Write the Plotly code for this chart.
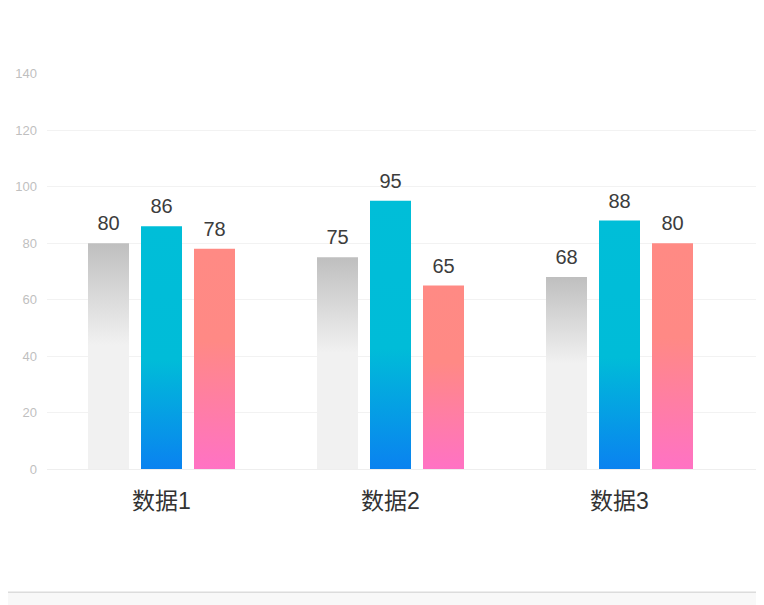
import plotly.graph_objects as go

categories = ["数据1", "数据2", "数据3"]
series_names = ["系列1", "系列2", "系列3"]
values = [
    [80, 75, 68],   # grey
    [86, 95, 88],   # blue
    [78, 65, 80],   # pink
]
y_ticks = [0, 20, 40, 60, 80, 100, 120, 140]

# vertical gradients, 0 = bottom of bar, 1 = top of bar
gradients = [
    [[0, "#f1f1f1"], [0.55, "#f1f1f1"], [1, "#bfbfbf"]],
    [[0, "#0a82f0"], [0.45, "#00bcd8"], [1, "#00bed8"]],
    [[0, "#ff72c4"], [0.58, "#ff8985"], [1, "#ff8a84"]],
]

bar_w = 41 / 229
step = 53 / 229
font = "Liberation Sans, Arial, Noto Sans CJK SC"

fig = go.Figure()

for s, series in enumerate(values):
    off = (s - 1) * step
    for i, v in enumerate(series):
        x0 = i + off - bar_w / 2
        x1 = i + off + bar_w / 2
        fig.add_trace(go.Scatter(
            x=[x0, x1, x1, x0, x0],
            y=[0, 0, v, v, 0],
            mode="lines",
            line=dict(width=0),
            fill="toself",
            fillgradient=dict(type="vertical", colorscale=gradients[s]),
            name=series_names[s],
            hoverinfo="skip",
            showlegend=False,
        ))
    # value labels, pushed up by an invisible marker
    fig.add_trace(go.Scatter(
        x=[i + off for i in range(len(series))],
        y=series,
        mode="markers+text",
        marker=dict(size=11, color="rgba(0,0,0,0)"),
        text=[str(v) for v in series],
        textposition="top center",
        textfont=dict(size=20, color="#3c3c3c", family=font),
        showlegend=False,
        hoverinfo="skip",
    ))

# light strip at the bottom of the page
fig.add_shape(type="rect", xref="paper", yref="paper",
              x0=-0.1, x1=1.05, y0=-0.36, y1=-0.311,
              fillcolor="#f8f8f8", line_width=0, layer="below")
fig.add_shape(type="line", xref="paper", yref="paper",
              x0=-0.1, x1=1.05, y0=-0.311, y1=-0.311,
              line=dict(color="#dcdcdc", width=1.5))

fig.update_xaxes(
    range=[-0.5, -0.5 + 717 / 229],
    tickvals=list(range(len(categories))),
    ticktext=categories,
    tickfont=dict(size=23, color="#333333", family=font),
    ticklabelstandoff=16,
    showgrid=False,
    zeroline=False,
    showline=False,
    ticks="",
    fixedrange=True,
)
fig.update_yaxes(
    range=[0, 140.3],
    tickvals=y_ticks,
    tickfont=dict(size=13, color="#bfbfbf", family=font),
    ticklabelstandoff=9,
    showgrid=True,
    gridcolor="#f2f2f2",
    gridwidth=1,
    zeroline=True,
    zerolinecolor="#eeeeee",
    zerolinewidth=1,
    showline=False,
    ticks="",
    fixedrange=True,
)
# page body adds 8px, so the figure is 8px smaller than the window
fig.update_layout(
    width=756,
    height=597,
    margin=dict(l=39, r=0, t=65, b=136),
    plot_bgcolor="white",
    paper_bgcolor="white",
    showlegend=False,
)

fig.write_html("out.html", config={"displayModeBar": False})
